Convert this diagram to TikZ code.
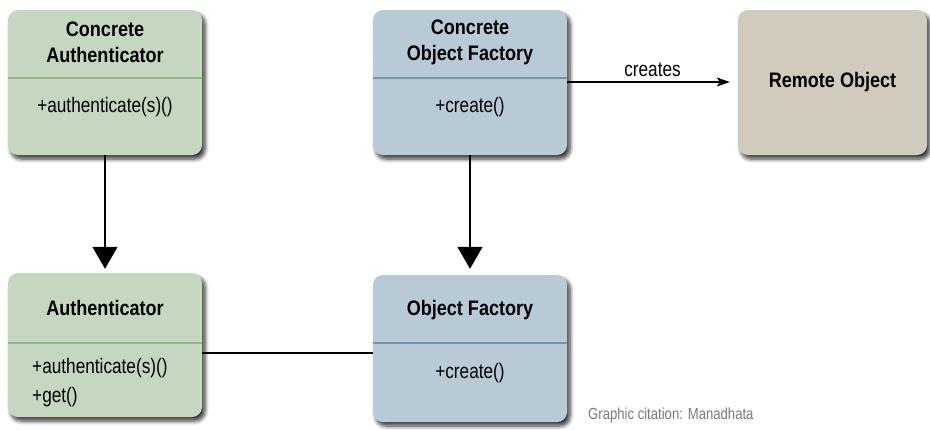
\documentclass[tikz,border=0pt]{standalone}
\usepackage{fontspec}
\setmainfont{Liberation Sans}[FakeStretch=0.82]
\newfontfamily\titlefont{Liberation Sans Bold}[FakeStretch=0.86]
\usetikzlibrary{arrows.meta,shadows.blur}

\definecolor{authfill}{RGB}{197,215,192}
\definecolor{authrule}{RGB}{148,182,142}
\definecolor{factfill}{RGB}{185,202,215}
\definecolor{factrule}{RGB}{120,149,168}
\definecolor{remotefill}{RGB}{209,203,189}
\definecolor{citegray}{RGB}{120,120,120}

\tikzset{
  classbox/.style={rounded corners=10pt, minimum width=194pt, inner sep=0pt,
    blur shadow={shadow xshift=3pt, shadow yshift=-4pt, shadow blur radius=4pt,
      shadow blur steps=6, shadow opacity=80}},
  authbox/.style={classbox, fill=authfill},
  factbox/.style={classbox, fill=factfill},
  remotebox/.style={classbox, fill=remotefill},
  title/.style={font=\titlefont\fontsize{21}{26}\selectfont, align=center, inner sep=0pt},
  member/.style={font=\fontsize{21}{29}\selectfont, inner sep=0pt},
  divider/.style={line width=2.2pt},
  inherit/.style={line width=1.2pt, -{Triangle[width=25pt,length=22pt]}},
  creates/.style={line width=1.2pt, -{Stealth[width=9pt,length=13pt,inset=3pt]}},
  assoc/.style={line width=1.2pt}
}

\begin{document}
\begin{tikzpicture}[x=1pt,y=-1pt]
  \useasboundingbox (0,0) rectangle (930,429);

  % class boxes
  \node[authbox, minimum height=145pt] (ca) at (105,82.5) {};
  \node[factbox, minimum height=145pt] (cof) at (470,82.5) {};
  \node[remotebox, minimum width=189pt, minimum height=145pt] (ro) at (832.5,82.5) {};
  \node[authbox, minimum height=144pt] (au) at (105,345) {};
  \node[factbox, minimum height=147pt] (of) at (470,348.5) {};

  % compartment rules
  \draw[divider, authrule] (ca.west |- 0,78) -- (ca.east |- 0,78);
  \draw[divider, factrule] (cof.west |- 0,78) -- (cof.east |- 0,78);
  \draw[divider, authrule] (au.west |- 0,343) -- (au.east |- 0,343);
  \draw[divider, factrule] (of.west |- 0,343) -- (of.east |- 0,343);

  % names and operations
  \node[title] (ca-name) at (105,42) {Concrete\\Authenticator};
  \node[member] (ca-ops) at (105,107) {+authenticate(s)()};
  \node[title] (cof-name) at (470,42) {Concrete\\Object Factory};
  \node[member] (cof-ops) at (470,107) {+create()};
  \node[title] (ro-name) at (832.5,82) {Remote Object};
  \node[title] (au-name) at (105,308) {Authenticator};
  \node[member, anchor=west] (au-op1) at (32,368) {+authenticate(s)()};
  \node[member, anchor=west] (au-op2) at (32,397) {+get()};
  \node[title] (of-name) at (470,310) {Object Factory};
  \node[member] (of-ops) at (470,373) {+create()};

  % relations
  \draw[inherit, shorten >=4pt] (ca) -- (au);
  \draw[inherit, shorten >=6pt] (cof) -- (of);
  \draw[creates, shorten >=8pt] (cof.east |- 0,82) -- node[above=5pt, member, font=\fontsize{21}{22}\selectfont] (creates-label) {creates} (ro.west |- 0,82);
  \draw[assoc] (au.east |- 0,353) -- (of.west |- 0,353);

  % source note
  \node[anchor=west, inner sep=0pt, text=citegray, font=\fontsize{16}{18}\selectfont] (cite) at (588,415) {Graphic citation: Manadhata};
\end{tikzpicture}
\end{document}
